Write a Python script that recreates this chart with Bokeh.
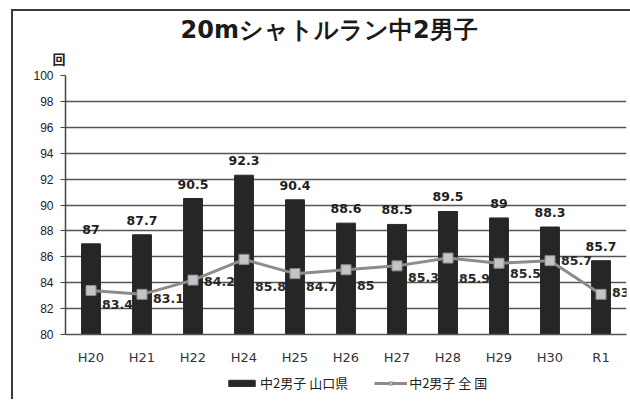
from bokeh.plotting import figure
from bokeh.layouts import column
from bokeh.models import (FactorRange, Range1d, Legend, LegendItem, Title,
                          ColumnDataSource, FixedTicker)
from bokeh.core.properties import value
from bokeh.embed import file_html
from bokeh.resources import INLINE

# ---- data ----
years = ["H20", "H21", "H22", "H24", "H25", "H26", "H27", "H28", "H29", "H30", "R1"]
yamaguchi = [87, 87.7, 90.5, 92.3, 90.4, 88.6, 88.5, 89.5, 89, 88.3, 85.7]
national = [83.4, 83.1, 84.2, 85.8, 84.7, 85, 85.3, 85.9, 85.5, 85.7, 83.1]
y_ticks = [80, 82, 84, 86, 88, 90, 92, 94, 96, 98, 100]
series_names = ["中2男子 山口県", "中2男子 全 国"]
title_text = "20mシャトルラン中2男子"
unit_text = "回"

# label placement style (pixel offsets of national data labels)
nat_label_dy = [14, 4, 1, 27, 13, 16, 12, 20, 10, 0, -2]

BAR_COLOR = "#262626"
LINE_COLOR = "#8c8c8c"
MARK_FILL = "#c4c4c4"

src = ColumnDataSource(dict(
    x=years,
    yam=yamaguchi,
    nat=national,
    yam_txt=[f"{v:g}" for v in yamaguchi],
    nat_txt=[f"{v:g}" for v in national],
    dy=nat_label_dy,
))

xr = FactorRange(factors=years, range_padding=0)
p = figure(x_range=xr, y_range=Range1d(80, 100),
           width=617, height=356,
           output_backend="svg", toolbar_location=None,
           min_border_left=52, min_border_right=4,
           min_border_top=64, min_border_bottom=30)
p.outline_line_color = None
p.background_fill_color = "white"

# unit mark just above the value axis (nearest to the frame)
p.add_layout(Title(text=unit_text, align="left", offset=-13, standoff=16,
                   text_font="Noto Sans CJK JP", text_font_size="13px",
                   text_font_style="bold", text_color="#222222"), "above")

# chart title
p.title.text = title_text
p.title.text_font = "DejaVu Sans"
p.title.text_font_size = "24px"
p.title.text_font_style = "bold"
p.title.text_color = "#1a1a1a"
p.title.align = "left"
p.title.offset = 115
p.title.standoff = -10

# grid & axes
p.xgrid.grid_line_color = None
p.ygrid.grid_line_color = "#555555"
p.ygrid.grid_line_width = 1.5
p.yaxis.ticker = FixedTicker(ticks=y_ticks)
p.yaxis.minor_tick_line_color = None
p.yaxis.major_tick_out = 5
p.yaxis.major_tick_in = 0
p.yaxis.major_tick_line_color = "#444444"
p.yaxis.axis_line_color = "#444444"
p.yaxis.axis_line_width = 1.5
p.yaxis.major_label_text_font = "Liberation Sans"
p.yaxis.major_label_text_font_size = "12px"
p.yaxis.major_label_text_color = "#222222"
p.yaxis.major_label_standoff = 7
p.xaxis.major_tick_line_color = None
p.xaxis.axis_line_color = "#555555"
p.xaxis.axis_line_width = 1.5
p.xaxis.major_label_text_font = "DejaVu Sans"
p.xaxis.major_label_text_font_size = "13px"
p.xaxis.major_label_text_color = "#333333"
p.xaxis.major_label_standoff = 9

# national data labels (drawn first, partly hidden by bars like the original)
p.text(x="x", y="nat", text="nat_txt", source=src, x_offset=11, y_offset="dy",
       text_align="left", text_baseline="middle",
       text_font=value("DejaVu Sans"), text_font_size="12.5px",
       text_font_style="bold", text_color="#2a2a2a")

bars = p.vbar(x="x", top="yam", bottom=80, width=0.37, source=src,
              fill_color=BAR_COLOR, line_color=BAR_COLOR)
ln = p.line(x="x", y="nat", source=src, line_color=LINE_COLOR, line_width=3)
mk = p.scatter(x="x", y="nat", source=src, marker="square", size=10,
               fill_color=MARK_FILL, line_color=LINE_COLOR, line_width=1)

p.text(x="x", y="yam", text="yam_txt", source=src, y_offset=-10,
       text_align="center", text_baseline="bottom",
       text_font=value("DejaVu Sans"), text_font_size="12.5px",
       text_font_style="bold", text_color="#1e1e1e")

# legend strip below the chart (hidden copies of the series supply the swatches)
lf = figure(width=617, height=32, x_range=xr, y_range=Range1d(0, 1),
            output_backend="svg", toolbar_location=None,
            min_border_left=52, min_border_right=4,
            min_border_top=0, min_border_bottom=0)
lf.axis.visible = False
lf.grid.visible = False
lf.outline_line_color = None
lb = lf.vbar(x="x", top="yam", bottom=80, width=0.37, source=src,
             fill_color=BAR_COLOR, line_color=BAR_COLOR, visible=False)
ll = lf.line(x="x", y="nat", source=src, line_color=LINE_COLOR, line_width=3,
             visible=False)
lm = lf.scatter(x="x", y="nat", source=src, marker="square", size=10,
                fill_color=MARK_FILL, line_color=LINE_COLOR, line_width=1,
                visible=False)
legend = Legend(items=[LegendItem(label=series_names[0], renderers=[lb]),
                       LegendItem(label=series_names[1], renderers=[ll, lm])],
                orientation="horizontal", location=(160, 7),
                glyph_width=33, glyph_height=8, spacing=26,
                label_text_font="Noto Sans CJK JP", label_text_font_size="13px",
                label_text_color="#222222", label_standoff=2,
                border_line_color=None, background_fill_alpha=0,
                padding=0, margin=0)
lf.add_layout(legend)

layout = column(p, lf, spacing=0)
layout.margin = (9, 0, 0, 11)
layout.styles = {"border-left": "2px solid #3a3a3a", "border-top": "2px solid #3a3a3a"}

open("out.html", "w").write(file_html(layout, INLINE))
